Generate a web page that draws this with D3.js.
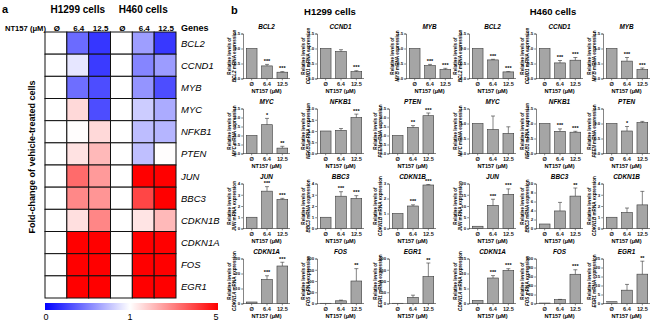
<!DOCTYPE html>
<html><head><meta charset="utf-8">
<script src="https://cdn.jsdelivr.net/npm/d3@7"></script>
<style>body{margin:0;background:#fff}svg{display:block}</style>
</head><body><svg id="c" width="668" height="322"></svg>
<script>
const genes = ["BCL2","CCND1","MYB","MYC","NFKB1","PTEN","JUN","BBC3","CDKN1B","CDKN1A","FOS","EGR1"];
const doses = ["Ø","6.4","12.5"];
const cellLines = ["H1299 cells","H460 cells"];

const h1299Mean = [[1,0.42,0.21],[1,0.90,0.23],[1,0.43,0.30],[1,1.60,0.30],[1,1.03,1.60],[1,1.45,2.10],
  [1,3.32,2.58],[1,2.87,2.67],[1,1.50,2.90],[1,16,25],[1,12,100],[1,27,120]];
const h1299Err = [[0,0.05,0.02],[0,0.06,0.03],[0,0.04,0.04],[0,0.35,0.10],[0,0.08,0.15],[0,0.10,0.15],
  [0,0.40,0.10],[0,0.40,0.25],[0,0.08,0.03],[0,2.5,2.5],[0,3,55],[0,10,60]];
const h1299Stars = [["","***","***"],["","","***"],["","***","***"],["","*","**"],["","","***"],["","**","***"],
  ["","***","***"],["","***","***"],["","***","***"],["","***","***"],["","","**"],["","","**"]];
const h1299Ticks = [[0,0.5,1,1.5],[0,0.5,1,1.5],[0,0.5,1,1.5],[0,0.5,1,1.5,2,2.5],[0,0.5,1,1.5,2],[0,0.5,1,1.5,2,2.5],
  [0,1,2,3,4],[0,1,2,3,4],[0,1,2,3],[0,10,20,30],[0,50,100,150,200],[0,50,100,150,200]];

const h460Mean = [[1,0.62,0.22],[1,0.52,0.61],[1,0.58,0.30],[1,0.80,0.67],[1,0.74,0.71],[1,0.75,1.03],
  [1,10.3,15.2],[1,3.9,7.2],[1,1.42,2.1],[1,8.5,11],[1,8.5,65],[1,7.4,16.3]];
const h460Err = [[0,0.02,0.01],[0,0.08,0.09],[0,0.12,0.05],[0,0.45,0.22],[0,0.08,0.03],[0,0.15,0.04],
  [0,2.7,2.4],[0,1.9,1.8],[0,0.4,1.2],[0,0.8,0.6],[0,0.6,10],[0,3.2,7.2]];
const h460Stars = [["","***","***"],["","***","***"],["","***","***"],["","",""],["","***","***"],["","*",""],
  ["","***","***"],["","","**"],["","",""],["","***","***"],["","","***"],["","","**"]];
const h460Ticks = [[0,0.5,1,1.5],[0,0.5,1,1.5],[0,0.5,1,1.5],[0,0.5,1,1.5],[0,0.5,1,1.5],[0,0.5,1,1.5],
  [0,5,10,15,20],[0,2,4,6,8,10],[0,1,2,3,4],[0,5,10,15],[0,20,40,60,80,100],[0,5,10,15,20,25]];

const colorTicks = [0,1,5];

const FONT = '"Liberation Sans", Arial, Helvetica, sans-serif';
const svg = d3.select("#c").style("font-family", FONT);

/* ---------------- panel a ---------------- */
svg.append("text").attr("x",2).attr("y",13).attr("font-size",11).attr("font-weight","bold").text("a");
const hx = d3.scaleBand().domain(d3.range(6)).range([45,176]);
const hy = d3.scaleBand().domain(genes).range([32,298]);
const cval = d3.scaleLinear().domain([0,1,5]).range(["#0000ff","#ffffff","#ff0000"]).clamp(true);
const means = [h1299Mean, h460Mean];

cellLines.forEach((cl,ci)=>{
  svg.append("text").attr("x",(hx(ci*3)+hx(ci*3+2)+hx.bandwidth())/2).attr("y",13)
    .attr("text-anchor","middle").attr("font-size",10).attr("font-weight","bold").text(cl);
});
svg.append("text").attr("x",5).attr("y",31).attr("font-size",7.6).attr("font-weight","bold").text("NT157 (μM)");
d3.range(6).forEach(i=>{
  svg.append("text").attr("x",hx(i)+hx.bandwidth()/2+1).attr("y",31).attr("text-anchor","middle")
    .attr("font-size",8).attr("font-weight","bold").text(doses[i%3]);
});
svg.append("text").attr("x",181).attr("y",31).attr("font-size",9).attr("font-weight","bold").text("Genes");

const cells = [];
genes.forEach((g,gi)=>{ [0,1].forEach(ci=>{ [0,1,2].forEach(di=>{
  cells.push({g, col: ci*3+di, v: means[ci][gi][di]});
});});});
svg.append("g").selectAll("rect").data(cells).join("rect")
  .attr("x",d=>hx(d.col)).attr("y",d=>hy(d.g)).attr("width",hx.bandwidth()).attr("height",hy.bandwidth())
  .attr("fill",d=>cval(d.v)).attr("stroke","#111").attr("stroke-width",1);
svg.append("g").selectAll("text").data(genes).join("text")
  .attr("x",181).attr("y",d=>hy(d)+hy.bandwidth()/2+3.5).attr("font-size",9.5).attr("font-style","italic").text(d=>d);
svg.append("text").attr("transform",`translate(35,${(32+298)/2-8}) rotate(-90)`).attr("text-anchor","middle")
  .attr("font-size",9).attr("font-weight","bold").text("Fold-change of vehicle-treated cells");

// colorbar
const cbPos = d3.scaleLinear().domain([0,1,5]).range([45,130,218]);
const defs = svg.append("defs");
const grad = defs.append("linearGradient").attr("id","cb").attr("x1","0").attr("x2","1").attr("y1","0").attr("y2","0");
d3.range(0,5.01,0.1).forEach(v=>{
  grad.append("stop").attr("offset",(cbPos(v)-45)/(218-45)).attr("stop-color",cval(v));
});
svg.append("rect").attr("x",45).attr("y",303).attr("width",173).attr("height",7).attr("fill","url(#cb)");
svg.append("g").selectAll("text").data(colorTicks).join("text")
  .attr("x",d=>cbPos(d)+(d===0?1:d===5?-2:0)).attr("y",320).attr("text-anchor","middle").attr("font-size",9).text(d=>d);

/* ---------------- panel b ---------------- */
svg.append("text").attr("x",231).attr("y",14).attr("font-size",11).attr("font-weight","bold").text("b");
svg.append("text").attr("x",330).attr("y",15).attr("text-anchor","middle").attr("font-size",9.5).attr("font-weight","bold").text("H1299 cells");
svg.append("text").attr("x",553).attr("y",15).attr("text-anchor","middle").attr("font-size",9.5).attr("font-weight","bold").text("H460 cells");

const rowTops = [33.5,108.5,183.5,258.5];
const axesH1299 = [[243,317,406],[243,317,389],[243,317,389],[243,317,389]];
const axesH460 = [[469,536,603],[469,536,603],[469,536,603],[469,536,603]];
const PH = 45, PW = 47;

function drawChart(x0, top, gene, mean, err, stars, ticks){
  const g = svg.append("g");
  const ymax = ticks[ticks.length-1];
  const y = d3.scaleLinear().domain([0,ymax]).range([top+PH, top]);
  const x = d3.scaleBand().domain(doses).range([x0+1, x0+PW]).paddingInner(0.3).paddingOuter(0.15);
  const fmt = ymax<=2.5 ? d3.format(".1f") : d3.format("d");
  const ya = g.append("g").attr("transform",`translate(${x0},0)`)
    .call(d3.axisLeft(y).tickValues(ticks).tickSize(1.8).tickPadding(1).tickFormat(fmt));
  ya.selectAll("text").attr("font-size",4.4).attr("font-weight","bold").attr("font-family",FONT).attr("fill","#222");
  ya.selectAll("line").attr("stroke","#333").attr("stroke-width",0.6);
  ya.select(".domain").attr("stroke","#333").attr("stroke-width",0.6);
  const xa = g.append("g").attr("transform",`translate(0,${top+PH})`)
    .call(d3.axisBottom(x).tickSize(1.8).tickPadding(1.5).tickSizeOuter(0));
  xa.selectAll("text").attr("font-size",5.6).attr("font-weight","bold").attr("font-family",FONT).attr("fill","#222");
  xa.selectAll("line").attr("stroke","#333").attr("stroke-width",0.6);
  xa.select(".domain").attr("stroke","#333").attr("stroke-width",0.6).attr("d",`M${x0},0H${x0+PW}`);
  const data = doses.map((d,i)=>({d, m:mean[i], e:err[i], s:stars[i]}));
  g.selectAll("rect.bar").data(data).join("rect").attr("class","bar")
    .attr("x",d=>x(d.d)).attr("y",d=>y(d.m)).attr("width",x.bandwidth()).attr("height",d=>y(0)-y(d.m))
    .attr("fill","#a5a5a5").attr("stroke","#3a3a3a").attr("stroke-width",0.6);
  const cx = d=>x(d.d)+x.bandwidth()/2;
  const eb = data.filter(d=>d.e>0);
  g.selectAll("path.err").data(eb).join("path").attr("class","err")
    .attr("d",d=>`M${cx(d)},${y(d.m)}V${y(d.m+d.e)}M${cx(d)-2},${y(d.m+d.e)}H${cx(d)+2}`)
    .attr("stroke","#333").attr("stroke-width",0.6).attr("fill","none");
  g.selectAll("text.star").data(data.filter(d=>d.s)).join("text").attr("class","star")
    .attr("x",cx).attr("y",d=>y(d.m+d.e)-1.5).attr("text-anchor","middle").attr("font-size",5.5).attr("font-weight","bold").text(d=>d.s);
  const mid = x0+PW/2;
  g.append("text").attr("x",mid).attr("y",top-5).attr("text-anchor","middle").attr("font-size",6.4)
    .attr("font-weight","bold").attr("font-style","italic").text(gene);
  g.append("text").attr("x",mid).attr("y",top+PH+14.5).attr("text-anchor","middle").attr("font-size",5.6)
    .attr("font-weight","bold").text("NT157 (μM)");
  const yl = g.append("text").attr("transform",`translate(${x0-12},${top+PH/2}) rotate(-90)`)
    .attr("text-anchor","middle").attr("font-size",4.6).attr("font-weight","bold");
  yl.append("tspan").attr("x",0).attr("dy",0).text("Relative levels of");
  const t2 = yl.append("tspan").attr("x",0).attr("dy",5);
  t2.append("tspan").attr("font-style","italic").text(gene);
  t2.append("tspan").text(" mRNA expression");
}

genes.forEach((gene,i)=>{
  const r = Math.floor(i/3), c = i%3;
  drawChart(axesH1299[r][c], rowTops[r], gene, h1299Mean[i], h1299Err[i], h1299Stars[i], h1299Ticks[i]);
  drawChart(axesH460[r][c], rowTops[r], gene, h460Mean[i], h460Err[i], h460Stars[i], h460Ticks[i]);
});
</script></body></html>
